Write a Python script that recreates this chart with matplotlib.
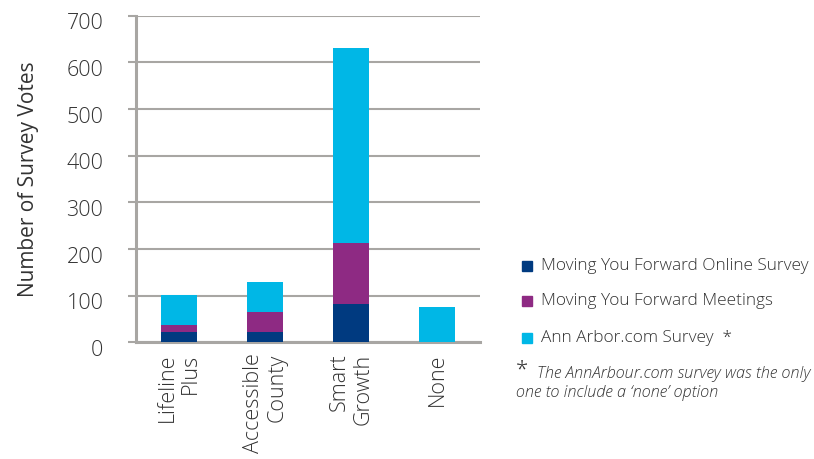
import matplotlib.pyplot as plt
import numpy as np
from matplotlib.transforms import ScaledTranslation
from matplotlib.patches import Rectangle

plt.rcParams["font.family"] = ["Open Sans", "DejaVu Sans"]
plt.rcParams["font.weight"] = "light"

# ===============================
# DATA
# ===============================
categories = ["Lifeline\nPlus", "Accessible\nCounty", "Smart\nGrowth", "None"]
online_survey = [22, 22, 82, 0]
meetings = [15, 43, 131, 0]
annarbor_survey = [64, 64, 418, 76]

series_names = ["Moving You Forward Online Survey",
                "Moving You Forward Meetings",
                "Ann Arbor.com Survey  *"]
colors = ["#003A80", "#8E2A83", "#00B7E6"]
text_color = "#333333"
grid_color = "#A8A6A3"

# ===============================
# FIGURE
# ===============================
fig = plt.figure(figsize=(8.14, 4.59), dpi=100)
ax = fig.add_axes([0.167, 0.254, 0.423, 0.712])

x = np.arange(len(categories))
width = 0.42
bottom = np.zeros(len(categories))
for vals, col in zip([online_survey, meetings, annarbor_survey], colors):
    ax.bar(x, vals, width, bottom=bottom, color=col, zorder=3)
    bottom += np.array(vals)

ax.set_xlim(-0.5, 3.5)
ax.set_ylim(0, 700)
ax.set_yticks(range(0, 701, 100))
ax.yaxis.grid(True, color=grid_color, linewidth=1.5, zorder=0)
ax.set_axisbelow(True)

for side in ["top", "right"]:
    ax.spines[side].set_visible(False)
for side in ["left", "bottom"]:
    ax.spines[side].set_color(grid_color)
    ax.spines[side].set_linewidth(2.2)

ax.tick_params(axis="y", length=5.5, width=1.5, color=grid_color, pad=18,
               labelsize=15.5, labelcolor=text_color)
ax.tick_params(axis="x", length=0, pad=8, labelsize=15.5, labelcolor=text_color)
ax.set_xticks(x)
ax.set_xticklabels(categories, rotation=90, va="top", ha="center",
                   multialignment="right", linespacing=1.15)

# y labels sit slightly below their gridlines in the original
for lab in ax.get_yticklabels():
    lab.set_transform(lab.get_transform() + ScaledTranslation(0, -4 / 72, fig.dpi_scale_trans))

ax.set_ylabel("Number of Survey Votes", fontsize=15, color=text_color, labelpad=20)

# ===============================
# LEGEND (drawn by hand to match spacing)
# ===============================
leg_y = [266, 301, 338]
for name, col, yy in zip(series_names, colors, leg_y):
    fy = 1 - yy / 459
    fig.patches.append(Rectangle((522 / 814, fy - 5 / 459), 10 / 814, 10 / 459,
                                 transform=fig.transFigure, color=col))
    fig.text(541 / 814, fy, name, fontsize=12.4, color=text_color, va="center")

fig.text(516 / 814, 1 - 370 / 459, "*", fontsize=16, color=text_color, va="center")
fig.text(537 / 814, 1 - 374 / 459, "The AnnArbour.com survey was the only",
         fontsize=11.7, style="italic", color=text_color, va="center")
fig.text(516 / 814, 1 - 393 / 459, "one to include a \u2018none\u2019 option",
         fontsize=11.7, style="italic", color=text_color, va="center")

plt.savefig("out.png", dpi=100)
plt.close()
